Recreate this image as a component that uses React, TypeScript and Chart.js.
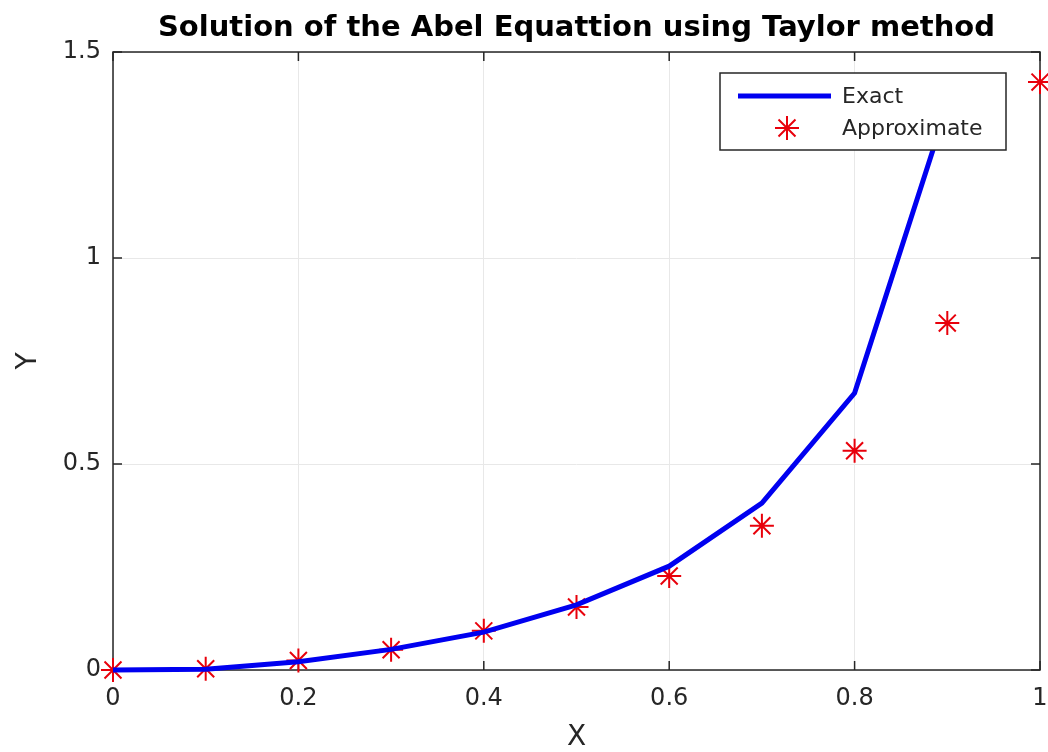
import React, { useEffect, useRef } from "react";
import { Chart, registerables } from "chart.js";

Chart.register(...registerables);

const titleText = "Solution of the Abel Equattion using Taylor method";
const xLabel = "X";
const yLabel = "Y";

const exactX = [0, 0.1, 0.2, 0.3, 0.4, 0.5, 0.6, 0.7, 0.8, 0.9];
const exactY = [0, 0.002, 0.02, 0.05, 0.092, 0.158, 0.252, 0.405, 0.672, 1.37];

const approxX = [0, 0.1, 0.2, 0.3, 0.4, 0.5, 0.6, 0.7, 0.8, 0.9, 1.0];
const approxY = [0, 0.003, 0.023, 0.049, 0.095, 0.153, 0.228, 0.35, 0.532, 0.842, 1.427];

const xTicks = [0, 0.2, 0.4, 0.6, 0.8, 1];
const yTicks = [0, 0.5, 1, 1.5];

const FONT = "'DejaVu Sans', 'Liberation Sans', Arial, sans-serif";
const TEXT = "#262626";

const boxPlugin = {
  id: "boxAndTicks",
  beforeDatasetsDraw(chart: any) {
    const { ctx, chartArea } = chart;
    const { left, right, top, bottom } = chartArea;
    const xs = chart.scales.x;
    const ys = chart.scales.y;
    ctx.save();
    ctx.strokeStyle = "#262626";
    ctx.lineWidth = 1.5;
    ctx.strokeRect(left, top, right - left, bottom - top);
    const tl = 9;
    ctx.beginPath();
    xTicks.forEach((v) => {
      const px = xs.getPixelForValue(v);
      ctx.moveTo(px, bottom);
      ctx.lineTo(px, bottom - tl);
      ctx.moveTo(px, top);
      ctx.lineTo(px, top + tl);
    });
    yTicks.forEach((v) => {
      const py = ys.getPixelForValue(v);
      ctx.moveTo(left, py);
      ctx.lineTo(left + tl, py);
      ctx.moveTo(right, py);
      ctx.lineTo(right - tl, py);
    });
    ctx.stroke();
    ctx.restore();
  },
};

function drawStar(ctx: CanvasRenderingContext2D, x: number, y: number, r: number) {
  ctx.beginPath();
  ctx.moveTo(x - r, y);
  ctx.lineTo(x + r, y);
  ctx.moveTo(x, y - r);
  ctx.lineTo(x, y + r);
  const d = r * Math.SQRT1_2;
  ctx.moveTo(x - d, y - d);
  ctx.lineTo(x + d, y + d);
  ctx.moveTo(x - d, y + d);
  ctx.lineTo(x + d, y - d);
  ctx.stroke();
}

const legendPlugin = {
  id: "boxLegend",
  afterDatasetsDraw(chart: any) {
    const { ctx, chartArea } = chart;
    const ds = chart.data.datasets;
    const w = 286;
    const h = 77;
    const bx = chartArea.right - 34 - w;
    const by = chartArea.top + 21;
    ctx.save();
    ctx.fillStyle = "#ffffff";
    ctx.fillRect(bx, by, w, h);
    ctx.strokeStyle = "#262626";
    ctx.lineWidth = 1.5;
    ctx.strokeRect(bx, by, w, h);
    ctx.font = `22px ${FONT}`;
    ctx.textBaseline = "middle";
    ctx.textAlign = "left";
    ctx.fillStyle = TEXT;
    const y1 = by + 23;
    ctx.strokeStyle = ds[0].borderColor;
    ctx.lineWidth = ds[0].borderWidth;
    ctx.beginPath();
    ctx.moveTo(bx + 18, y1);
    ctx.lineTo(bx + 111, y1);
    ctx.stroke();
    ctx.fillText(ds[0].label, bx + 122, y1 + 1);
    const y2 = by + 55;
    ctx.strokeStyle = ds[1].borderColor;
    ctx.lineWidth = ds[1].borderWidth;
    drawStar(ctx, bx + 67, y2, 12);
    ctx.fillStyle = TEXT;
    ctx.fillText(ds[1].label, bx + 122, y2 + 1);
    ctx.restore();
  },
};

export default function App() {
  const ref = useRef<HTMLCanvasElement | null>(null);

  useEffect(() => {
    document.body.style.margin = "0";
    const canvas = ref.current;
    if (!canvas) return;
    const chart = new Chart(canvas, {
      type: "scatter",
      data: {
        datasets: [
          {
            label: "Exact",
            data: exactX.map((x, i) => ({ x, y: exactY[i] })),
            showLine: true,
            borderColor: "#0000f0",
            backgroundColor: "#0000f0",
            borderWidth: 5,
            pointRadius: 0,
            tension: 0,
            clip: false as any,
          },
          {
            label: "Approximate",
            data: approxX.map((x, i) => ({ x, y: approxY[i] })),
            showLine: false,
            borderColor: "#e8000b",
            backgroundColor: "#e8000b",
            borderWidth: 2,
            pointStyle: "star",
            pointRadius: 12,
            clip: false as any,
          },
        ],
      },
      options: {
        responsive: false,
        animation: false,
        devicePixelRatio: 1,
        layout: { autoPadding: false, padding: { left: 0, right: 8, top: 0, bottom: 0 } } as any,
        plugins: {
          legend: { display: false },
          tooltip: { enabled: false },
          title: {
            display: true,
            text: titleText,
            fullSize: false,
            color: "#000000",
            font: { family: FONT, size: 29, weight: "bold", lineHeight: 1.0 },
            padding: { top: 14, bottom: 9 },
          },
        },
        scales: {
          x: {
            type: "linear",
            min: 0,
            max: 1,
            afterFit(scale: any) {
              scale.height = 82;
              scale.paddingLeft = 0;
              scale.paddingRight = 0;
            },
            afterBuildTicks(scale: any) {
              scale.ticks = xTicks.map((v) => ({ value: v }));
            },
            ticks: {
              color: TEXT,
              font: { family: FONT, size: 24 },
              padding: 14,
              maxRotation: 0,
              callback: (v: any) => String(v),
            },
            grid: { color: "#e8e8e8", drawTicks: false, lineWidth: 1 },
            border: { display: false },
            title: {
              display: true,
              text: xLabel,
              color: TEXT,
              font: { family: FONT, size: 28, lineHeight: 1.0 },
              padding: { top: 0, bottom: 0 },
            },
          },
          y: {
            type: "linear",
            min: 0,
            max: 1.5,
            afterFit(scale: any) {
              scale.width = 113;
              scale.paddingTop = 0;
              scale.paddingBottom = 0;
            },
            afterBuildTicks(scale: any) {
              scale.ticks = yTicks.map((v) => ({ value: v }));
            },
            ticks: {
              color: TEXT,
              font: { family: FONT, size: 24 },
              padding: 12,
              callback: (v: any) => String(v),
            },
            grid: { color: "#e8e8e8", drawTicks: false, lineWidth: 1 },
            border: { display: false },
            title: {
              display: true,
              text: yLabel,
              color: TEXT,
              font: { family: FONT, size: 28, lineHeight: 1.0 },
              padding: { top: 15, bottom: 0 },
            },
          },
        },
      },
      plugins: [boxPlugin, legendPlugin],
    });
    return () => chart.destroy();
  }, []);

  return (
    <div style={{ width: 1048, height: 752, background: "#ffffff" }}>
      <canvas ref={ref} width={1048} height={752} style={{ display: "block" }} />
    </div>
  );
}
